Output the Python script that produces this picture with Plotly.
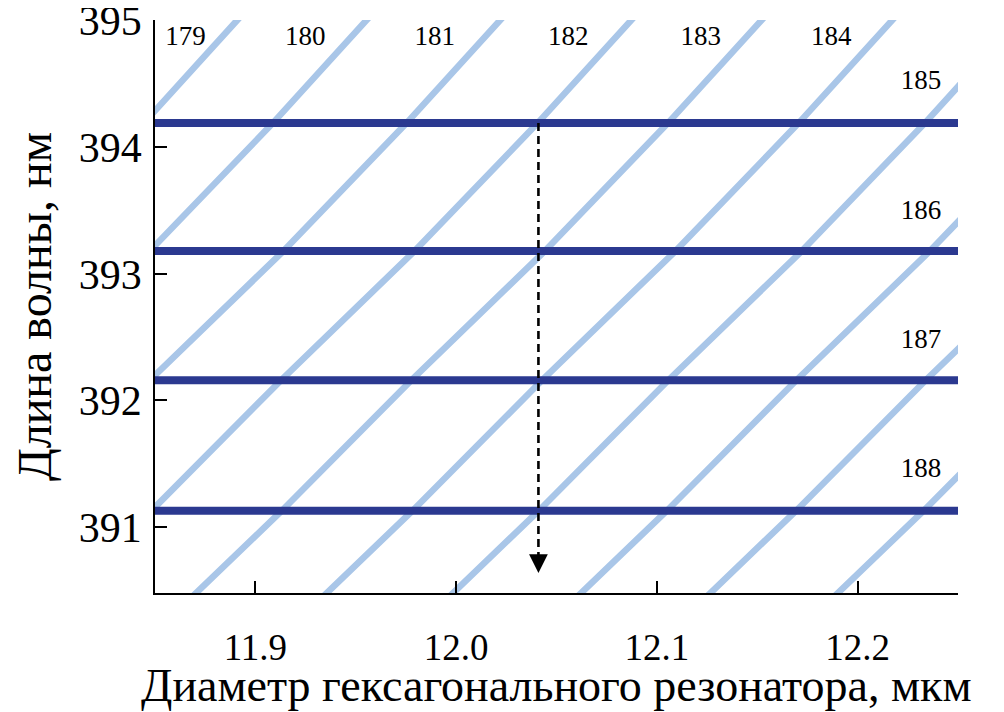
import plotly.graph_objects as go

# Wavelength levels (nm) at which each mode curve was read
mode_wavelengths = [390.2, 390.48, 391.13, 392.16, 393.18, 394.19, 395.0, 395.3]

# Resonator diameter (um) of each whispering-gallery mode at those wavelengths
mode_179 = [11.5910, 11.6094, 11.6521, 11.7166, 11.7831, 11.8444, 11.8908, 11.9081]
mode_180 = [11.6553, 11.6737, 11.7164, 11.7809, 11.8474, 11.9087, 11.9551, 11.9724]
mode_181 = [11.7219, 11.7403, 11.7830, 11.8475, 11.9140, 11.9753, 12.0217, 12.0390]
mode_182 = [11.7872, 11.8056, 11.8483, 11.9128, 11.9793, 12.0406, 12.0870, 12.1043]
mode_183 = [11.8521, 11.8705, 11.9132, 11.9777, 12.0442, 12.1055, 12.1519, 12.1692]
mode_184 = [11.9172, 11.9356, 11.9783, 12.0428, 12.1093, 12.1706, 12.2170, 12.2343]
mode_185 = [11.9801, 11.9985, 12.0412, 12.1057, 12.1722, 12.2335, 12.2799, 12.2972]
mode_186 = [12.0439, 12.0623, 12.1050, 12.1695, 12.2360, 12.2973, 12.3437, 12.3610]
mode_187 = [12.1083, 12.1267, 12.1694, 12.2339, 12.3004, 12.3617, 12.4081, 12.4254]
mode_188 = [12.1718, 12.1902, 12.2329, 12.2974, 12.3639, 12.4252, 12.4716, 12.4889]
mode_curves = [mode_179, mode_180, mode_181, mode_182, mode_183,
               mode_184, mode_185, mode_186, mode_187, mode_188]

# Observed lasing wavelengths (nm)
lasing_wavelengths = [394.19, 393.18, 392.16, 391.13]

# Selected resonator diameter (um) and arrow end (nm)
selected_diameter = 12.041
arrow_tip = 390.637

# Mode number labels
label_texts = ["179", "180", "181", "182", "183", "184", "185", "186", "187", "188"]
label_x = [11.8652, 11.9248, 11.9894, 12.0559, 12.1219, 12.1869,
           12.2316, 12.2316, 12.2316, 12.2316]
label_y = [394.86, 394.86, 394.86, 394.86, 394.86, 394.86,
           394.51, 393.49, 392.47, 391.45]

x_range = [11.85, 12.25]
y_range = [390.48, 395.004]
x_ticks = [11.9, 12.0, 12.1, 12.2]
x_ticktext = ["11.9", "12.0", "12.1", "12.2"]
y_ticks = [391, 392, 393, 394, 395]

x_title = "Диаметр гексагонального резонатора, мкм"
y_title = "Длина волны, нм"

FONT = "Liberation Serif, Times New Roman, serif"
LIGHT = "#A9C6E8"
DARK = "#2B3990"

fig = go.Figure()

for curve in mode_curves:
    fig.add_trace(go.Scatter(x=curve, y=mode_wavelengths, mode="lines",
                             line=dict(color=LIGHT, width=6.5),
                             hoverinfo="skip", showlegend=False))

for lw in lasing_wavelengths:
    fig.add_trace(go.Scatter(x=[x_range[0] - 0.01, x_range[1]], y=[lw, lw],
                             mode="lines", line=dict(color=DARK, width=8),
                             hoverinfo="skip", showlegend=False))

fig.add_trace(go.Scatter(x=[selected_diameter, selected_diameter],
                         y=[lasing_wavelengths[0], arrow_tip + 0.08],
                         mode="lines",
                         line=dict(color="black", width=2.6, dash="8px,5px"),
                         hoverinfo="skip", showlegend=False))

fig.add_annotation(x=selected_diameter, y=arrow_tip,
                   ax=selected_diameter, ay=arrow_tip + 0.12,
                   xref="x", yref="y", axref="x", ayref="y",
                   text="", showarrow=True, arrowhead=2,
                   arrowsize=1.5, arrowwidth=2.5, arrowcolor="black")

fig.add_trace(go.Scatter(x=label_x, y=label_y, mode="text", text=label_texts,
                         textfont=dict(family=FONT, size=27, color="black"),
                         hoverinfo="skip", showlegend=False))

# x-axis title placed as paper annotation below the tick labels
fig.add_annotation(x=0.5, y=-0.162, xref="paper", yref="paper",
                   text=x_title, showarrow=False,
                   xanchor="center", yanchor="middle",
                   font=dict(family=FONT, size=46, color="black"))

fig.update_layout(
    width=996, height=704,
    margin=dict(l=147, r=46, t=12, b=119),
    paper_bgcolor="white", plot_bgcolor="white",
    font=dict(family=FONT, color="black"),
    showlegend=False,
)

fig.update_xaxes(range=x_range, tickvals=x_ticks, ticktext=x_ticktext,
                 ticks="inside", ticklen=12, tickwidth=1.5, tickcolor="black",
                 showline=True, linewidth=1.8, linecolor="black",
                 showgrid=False, zeroline=False, automargin=False,
                 tickfont=dict(family=FONT, size=37),
                 ticklabelstandoff=21, ticklabeloverflow="allow")

fig.update_yaxes(range=y_range, tickvals=y_ticks,
                 ticks="inside", ticklen=12, tickwidth=1.5, tickcolor="black",
                 showline=True, linewidth=1.8, linecolor="black",
                 showgrid=False, zeroline=False, automargin=False,
                 tickfont=dict(family=FONT, size=42),
                 ticklabelstandoff=3, ticklabeloverflow="allow",
                 title=dict(text=y_title,
                            font=dict(family=FONT, size=48), standoff=14))

fig.write_html("out.html")
